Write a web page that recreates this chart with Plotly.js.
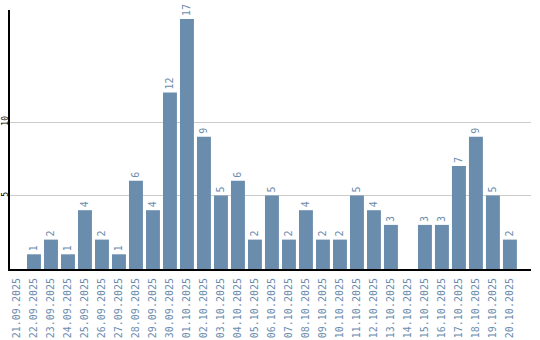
<!DOCTYPE html>
<html>
<head>
<meta charset="utf-8">
<script src="https://cdn.plot.ly/plotly-3.0.1.min.js"></script>
<style>html,body{margin:0;padding:0;background:#fff;}#chart{width:540px;height:340px;}</style>
</head>
<body>
<div id="chart"></div>
<script>
const dates = ["21.09.2025","22.09.2025","23.09.2025","24.09.2025","25.09.2025","26.09.2025","27.09.2025","28.09.2025","29.09.2025","30.09.2025","01.10.2025","02.10.2025","03.10.2025","04.10.2025","05.10.2025","06.10.2025","07.10.2025","08.10.2025","09.10.2025","10.10.2025","11.10.2025","12.10.2025","13.10.2025","14.10.2025","15.10.2025","16.10.2025","17.10.2025","18.10.2025","19.10.2025","20.10.2025"];
const counts = [0,1,2,1,4,2,1,6,4,12,17,9,5,6,2,5,2,4,2,2,5,4,3,0,3,3,7,9,5,2];
const yTicks = [5,10];

const labels = counts.map(v => v > 0 ? String(v) : "");

Plotly.newPlot("chart", [{
  type: "bar",
  x: dates,
  y: counts,
  text: labels,
  textposition: "outside",
  textangle: -90,
  cliponaxis: false,
  textfont: {family: "DejaVu Sans Mono", size: 10, color: "#6b8cae"},
  marker: {color: "#6a8cad"},
  hoverinfo: "none"
}], {
  width: 540, height: 340,
  margin: {l: 10, r: 9, t: 10, b: 71},
  paper_bgcolor: "#fff", plot_bgcolor: "#fff",
  bargap: 0.18,
  showlegend: false,
  xaxis: {
    type: "category",
    range: [-0.41, 30.24],
    tickangle: -90,
    ticklabelstandoff: 3,
    tickfont: {family: "DejaVu Sans Mono", size: 10, color: "#6b8cae"},
    showline: true, linecolor: "#000", linewidth: 2,
    showgrid: false, ticks: "", zeroline: false
  },
  yaxis: {
    range: [0, 17.62],
    tickvals: yTicks,
    ticktext: yTicks.map(String),
    tickangle: -90,
    ticklabelstandoff: -3,
    tickfont: {family: "DejaVu Sans Mono", size: 8, color: "#000"},
    showline: true, linecolor: "#000", linewidth: 2,
    showgrid: true, gridcolor: "#cccccc", gridwidth: 1,
    zeroline: false, ticks: ""
  }
}, {staticPlot: true});
</script>
</body>
</html>
